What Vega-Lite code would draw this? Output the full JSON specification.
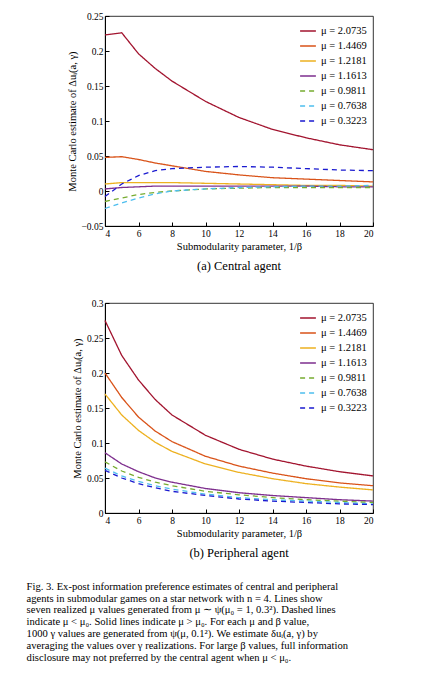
{
"$schema":"https://vega.github.io/schema/vega-lite/v6.json",
"padding":{"left":26,"top":10,"right":5,"bottom":2},
"config":{"font":"Liberation Serif","view":{"stroke":"black","strokeWidth":0.8},
"axis":{"grid":false,"domainColor":"black","tickColor":"black","tickSize":-4,"labelPadding":6,"labelFontSize":9.5,"titleFontSize":10.5,"titleFontWeight":"normal","labelColor":"black","titleColor":"black","labelFont":"Liberation Serif","titleFont":"Liberation Serif"},
"legend":{"labelFont":"Liberation Serif","labelFontSize":10.5,"symbolType":"stroke","symbolStrokeWidth":1.5,"symbolSize":250,"rowPadding":0,"title":null},
"title":{"font":"Liberation Serif","fontWeight":"normal","color":"black"}},
"data":{"values":[
{"p":"a","m":"2.0735","x":4,"y":0.223},{"p":"a","m":"2.0735","x":5,"y":0.226},{"p":"a","m":"2.0735","x":6,"y":0.196},{"p":"a","m":"2.0735","x":7,"y":0.175},{"p":"a","m":"2.0735","x":8,"y":0.157},{"p":"a","m":"2.0735","x":10,"y":0.128},{"p":"a","m":"2.0735","x":12,"y":0.105},{"p":"a","m":"2.0735","x":14,"y":0.088},{"p":"a","m":"2.0735","x":16,"y":0.076},{"p":"a","m":"2.0735","x":18,"y":0.066},{"p":"a","m":"2.0735","x":20,"y":0.059},
{"p":"a","m":"1.4469","x":4,"y":0.048},{"p":"a","m":"1.4469","x":5,"y":0.049},{"p":"a","m":"1.4469","x":6,"y":0.045},{"p":"a","m":"1.4469","x":7,"y":0.040},{"p":"a","m":"1.4469","x":8,"y":0.036},{"p":"a","m":"1.4469","x":10,"y":0.028},{"p":"a","m":"1.4469","x":12,"y":0.023},{"p":"a","m":"1.4469","x":14,"y":0.019},{"p":"a","m":"1.4469","x":16,"y":0.017},{"p":"a","m":"1.4469","x":18,"y":0.015},{"p":"a","m":"1.4469","x":20,"y":0.013},
{"p":"a","m":"1.2181","x":4,"y":0.010},{"p":"a","m":"1.2181","x":5,"y":0.012},{"p":"a","m":"1.2181","x":6,"y":0.012},{"p":"a","m":"1.2181","x":7,"y":0.012},{"p":"a","m":"1.2181","x":8,"y":0.012},{"p":"a","m":"1.2181","x":10,"y":0.011},{"p":"a","m":"1.2181","x":12,"y":0.010},{"p":"a","m":"1.2181","x":14,"y":0.009},{"p":"a","m":"1.2181","x":16,"y":0.008},{"p":"a","m":"1.2181","x":18,"y":0.008},{"p":"a","m":"1.2181","x":20,"y":0.007},
{"p":"a","m":"1.1613","x":4,"y":0.003},{"p":"a","m":"1.1613","x":5,"y":0.005},{"p":"a","m":"1.1613","x":6,"y":0.006},{"p":"a","m":"1.1613","x":7,"y":0.007},{"p":"a","m":"1.1613","x":8,"y":0.007},{"p":"a","m":"1.1613","x":10,"y":0.007},{"p":"a","m":"1.1613","x":12,"y":0.007},{"p":"a","m":"1.1613","x":14,"y":0.007},{"p":"a","m":"1.1613","x":16,"y":0.007},{"p":"a","m":"1.1613","x":18,"y":0.006},{"p":"a","m":"1.1613","x":20,"y":0.006},
{"p":"a","m":"0.9811","x":4,"y":-0.015},{"p":"a","m":"0.9811","x":5,"y":-0.010},{"p":"a","m":"0.9811","x":6,"y":-0.005},{"p":"a","m":"0.9811","x":7,"y":-0.002},{"p":"a","m":"0.9811","x":8,"y":0.000},{"p":"a","m":"0.9811","x":10,"y":0.003},{"p":"a","m":"0.9811","x":12,"y":0.004},{"p":"a","m":"0.9811","x":14,"y":0.005},{"p":"a","m":"0.9811","x":16,"y":0.005},{"p":"a","m":"0.9811","x":18,"y":0.005},{"p":"a","m":"0.9811","x":20,"y":0.005},
{"p":"a","m":"0.7638","x":4,"y":-0.025},{"p":"a","m":"0.7638","x":5,"y":-0.017},{"p":"a","m":"0.7638","x":6,"y":-0.010},{"p":"a","m":"0.7638","x":7,"y":-0.004},{"p":"a","m":"0.7638","x":8,"y":0.000},{"p":"a","m":"0.7638","x":10,"y":0.003},{"p":"a","m":"0.7638","x":12,"y":0.005},{"p":"a","m":"0.7638","x":14,"y":0.006},{"p":"a","m":"0.7638","x":16,"y":0.007},{"p":"a","m":"0.7638","x":18,"y":0.007},{"p":"a","m":"0.7638","x":20,"y":0.008},
{"p":"a","m":"0.3223","x":4,"y":-0.008},{"p":"a","m":"0.3223","x":5,"y":0.010},{"p":"a","m":"0.3223","x":6,"y":0.022},{"p":"a","m":"0.3223","x":7,"y":0.029},{"p":"a","m":"0.3223","x":8,"y":0.032},{"p":"a","m":"0.3223","x":10,"y":0.034},{"p":"a","m":"0.3223","x":12,"y":0.035},{"p":"a","m":"0.3223","x":14,"y":0.034},{"p":"a","m":"0.3223","x":16,"y":0.032},{"p":"a","m":"0.3223","x":18,"y":0.030},{"p":"a","m":"0.3223","x":20,"y":0.029},
{"p":"b","m":"2.0735","x":4,"y":0.275},{"p":"b","m":"2.0735","x":5,"y":0.225},{"p":"b","m":"2.0735","x":6,"y":0.190},{"p":"b","m":"2.0735","x":7,"y":0.162},{"p":"b","m":"2.0735","x":8,"y":0.140},{"p":"b","m":"2.0735","x":10,"y":0.111},{"p":"b","m":"2.0735","x":12,"y":0.091},{"p":"b","m":"2.0735","x":14,"y":0.077},{"p":"b","m":"2.0735","x":16,"y":0.067},{"p":"b","m":"2.0735","x":18,"y":0.059},{"p":"b","m":"2.0735","x":20,"y":0.053},
{"p":"b","m":"1.4469","x":4,"y":0.200},{"p":"b","m":"1.4469","x":5,"y":0.165},{"p":"b","m":"1.4469","x":6,"y":0.137},{"p":"b","m":"1.4469","x":7,"y":0.117},{"p":"b","m":"1.4469","x":8,"y":0.102},{"p":"b","m":"1.4469","x":10,"y":0.081},{"p":"b","m":"1.4469","x":12,"y":0.067},{"p":"b","m":"1.4469","x":14,"y":0.057},{"p":"b","m":"1.4469","x":16,"y":0.049},{"p":"b","m":"1.4469","x":18,"y":0.043},{"p":"b","m":"1.4469","x":20,"y":0.039},
{"p":"b","m":"1.2181","x":4,"y":0.170},{"p":"b","m":"1.2181","x":5,"y":0.140},{"p":"b","m":"1.2181","x":6,"y":0.118},{"p":"b","m":"1.2181","x":7,"y":0.101},{"p":"b","m":"1.2181","x":8,"y":0.088},{"p":"b","m":"1.2181","x":10,"y":0.070},{"p":"b","m":"1.2181","x":12,"y":0.058},{"p":"b","m":"1.2181","x":14,"y":0.049},{"p":"b","m":"1.2181","x":16,"y":0.042},{"p":"b","m":"1.2181","x":18,"y":0.037},{"p":"b","m":"1.2181","x":20,"y":0.033},
{"p":"b","m":"1.1613","x":4,"y":0.086},{"p":"b","m":"1.1613","x":5,"y":0.070},{"p":"b","m":"1.1613","x":6,"y":0.059},{"p":"b","m":"1.1613","x":7,"y":0.050},{"p":"b","m":"1.1613","x":8,"y":0.044},{"p":"b","m":"1.1613","x":10,"y":0.035},{"p":"b","m":"1.1613","x":12,"y":0.029},{"p":"b","m":"1.1613","x":14,"y":0.025},{"p":"b","m":"1.1613","x":16,"y":0.022},{"p":"b","m":"1.1613","x":18,"y":0.019},{"p":"b","m":"1.1613","x":20,"y":0.017},
{"p":"b","m":"0.9811","x":4,"y":0.073},{"p":"b","m":"0.9811","x":5,"y":0.060},{"p":"b","m":"0.9811","x":6,"y":0.051},{"p":"b","m":"0.9811","x":7,"y":0.044},{"p":"b","m":"0.9811","x":8,"y":0.039},{"p":"b","m":"0.9811","x":10,"y":0.031},{"p":"b","m":"0.9811","x":12,"y":0.026},{"p":"b","m":"0.9811","x":14,"y":0.022},{"p":"b","m":"0.9811","x":16,"y":0.019},{"p":"b","m":"0.9811","x":18,"y":0.017},{"p":"b","m":"0.9811","x":20,"y":0.015},
{"p":"b","m":"0.7638","x":4,"y":0.064},{"p":"b","m":"0.7638","x":5,"y":0.053},{"p":"b","m":"0.7638","x":6,"y":0.045},{"p":"b","m":"0.7638","x":7,"y":0.039},{"p":"b","m":"0.7638","x":8,"y":0.034},{"p":"b","m":"0.7638","x":10,"y":0.027},{"p":"b","m":"0.7638","x":12,"y":0.022},{"p":"b","m":"0.7638","x":14,"y":0.019},{"p":"b","m":"0.7638","x":16,"y":0.017},{"p":"b","m":"0.7638","x":18,"y":0.015},{"p":"b","m":"0.7638","x":20,"y":0.013},
{"p":"b","m":"0.3223","x":4,"y":0.061},{"p":"b","m":"0.3223","x":5,"y":0.050},{"p":"b","m":"0.3223","x":6,"y":0.042},{"p":"b","m":"0.3223","x":7,"y":0.036},{"p":"b","m":"0.3223","x":8,"y":0.031},{"p":"b","m":"0.3223","x":10,"y":0.025},{"p":"b","m":"0.3223","x":12,"y":0.020},{"p":"b","m":"0.3223","x":14,"y":0.017},{"p":"b","m":"0.3223","x":16,"y":0.015},{"p":"b","m":"0.3223","x":18,"y":0.013},{"p":"b","m":"0.3223","x":20,"y":0.012}
]},
"title":{"text":["Fig. 3.   Ex-post information preference estimates of central and peripheral","agents in submodular games on a star network with n = 4. Lines show","seven realized μ values generated from μ ∼ ψ(μ₀ = 1, 0.3²). Dashed lines","indicate μ < μ₀. Solid lines indicate μ > μ₀. For each μ and β value,","1000 γ values are generated from ψ(μ, 0.1²). We estimate δuᵢ(a, γ) by","averaging the values over γ realizations. For large β values, full information","disclosure may not preferred by the central agent when μ < μ₀."],"orient":"bottom","anchor":"start","fontSize":10.6,"lineHeight":11.8,"offset":22,"dx":-40},
"spacing":24,
"vconcat":[
{"width":268,"height":210,"transform":[{"filter":"datum.p == 'a'"}],
"title":{"text":"(a) Central agent","orient":"bottom","fontSize":12.5,"offset":8},
"mark":{"type":"line","strokeWidth":1.3},
"encoding":{
"x":{"field":"x","type":"quantitative","scale":{"domain":[4,20]},"axis":{"values":[4,6,8,10,12,14,16,18,20],"title":"Submodularity parameter, 1/β"}},
"y":{"field":"y","type":"quantitative","scale":{"domain":[-0.05,0.25],"nice":false},"axis":{"values":[-0.05,0,0.05,0.1,0.15,0.2,0.25],"format":"~f","title":"Monte Carlo estimate of Δuᵢ(a, γ)"}},
"color":{"field":"m","type":"nominal","sort":["2.0735","1.4469","1.2181","1.1613","0.9811","0.7638","0.3223"],"scale":{"domain":["2.0735","1.4469","1.2181","1.1613","0.9811","0.7638","0.3223"],"range":["#a2142f","#d95319","#edb120","#7e2f8e","#77ac30","#4dbeee","#1a1ad0"]},"legend":{"orient":"top-right","labelExpr":"'μ = ' + datum.label","offset":6}},
"strokeDash":{"field":"m","type":"nominal","sort":["2.0735","1.4469","1.2181","1.1613","0.9811","0.7638","0.3223"],"scale":{"domain":["2.0735","1.4469","1.2181","1.1613","0.9811","0.7638","0.3223"],"range":[[1,0],[1,0],[1,0],[1,0],[5,4],[5,4],[5,4]]},"legend":{"orient":"top-right","labelExpr":"'μ = ' + datum.label","offset":6}}
}},
{"width":268,"height":210,"transform":[{"filter":"datum.p == 'b'"}],
"title":{"text":"(b) Peripheral agent","orient":"bottom","fontSize":12.5,"offset":8},
"mark":{"type":"line","strokeWidth":1.3},
"encoding":{
"x":{"field":"x","type":"quantitative","scale":{"domain":[4,20]},"axis":{"values":[4,6,8,10,12,14,16,18,20],"title":"Submodularity parameter, 1/β"}},
"y":{"field":"y","type":"quantitative","scale":{"domain":[0,0.3],"nice":false},"axis":{"values":[0,0.05,0.1,0.15,0.2,0.25,0.3],"format":"~f","title":"Monte Carlo estimate of Δuᵢ(a, γ)"}},
"color":{"field":"m","type":"nominal","sort":["2.0735","1.4469","1.2181","1.1613","0.9811","0.7638","0.3223"],"scale":{"domain":["2.0735","1.4469","1.2181","1.1613","0.9811","0.7638","0.3223"],"range":["#a2142f","#d95319","#edb120","#7e2f8e","#77ac30","#4dbeee","#1a1ad0"]},"legend":{"orient":"top-right","labelExpr":"'μ = ' + datum.label","offset":6}},
"strokeDash":{"field":"m","type":"nominal","sort":["2.0735","1.4469","1.2181","1.1613","0.9811","0.7638","0.3223"],"scale":{"domain":["2.0735","1.4469","1.2181","1.1613","0.9811","0.7638","0.3223"],"range":[[1,0],[1,0],[1,0],[1,0],[5,4],[5,4],[5,4]]},"legend":{"orient":"top-right","labelExpr":"'μ = ' + datum.label","offset":6}}
}}
],
"resolve":{"scale":{"color":"independent","strokeDash":"independent"}}
}
